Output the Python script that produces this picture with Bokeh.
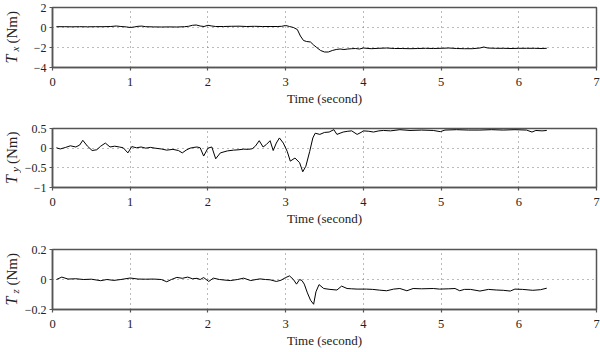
from math import pi
from bokeh.plotting import figure
from bokeh.layouts import column, row
from bokeh.models import Range1d, FixedTicker
from bokeh.core.properties import value
from bokeh.embed import file_html
from bokeh.resources import INLINE

FONT = "Liberation Serif"

x_ticks = [0, 1, 2, 3, 4, 5, 6, 7]
x_label = "Time (second)"

# ---- T_x ----
tx_time = [0.05, 0.15, 0.25, 0.35, 0.45, 0.55, 0.65, 0.75, 0.82, 0.88,
           0.95, 1.0, 1.05, 1.1, 1.15, 1.2, 1.3, 1.4, 1.5, 1.6,
           1.7, 1.75, 1.8, 1.85, 1.9, 1.95, 2.0, 2.05, 2.1, 2.2,
           2.3, 2.4, 2.5, 2.6, 2.7, 2.8, 2.9, 2.95, 3.0, 3.05,
           3.1, 3.15, 3.19, 3.23, 3.27, 3.32, 3.36, 3.4, 3.45, 3.5,
           3.55, 3.6, 3.65, 3.7, 3.75, 3.8, 3.85, 3.9, 3.95, 4.0,
           4.1, 4.2, 4.3, 4.4, 4.5, 4.6, 4.7, 4.8, 4.9, 5.0,
           5.1, 5.2, 5.3, 5.4, 5.5, 5.55, 5.6, 5.7, 5.8, 5.9,
           6.0, 6.1, 6.2, 6.3, 6.36]
tx_vals = [0.08, 0.08, 0.07, 0.08, 0.07, 0.08, 0.08, 0.1, 0.15, 0.1,
           0.06, 0.0, 0.05, 0.12, 0.14, 0.08, 0.06, 0.05, 0.06, 0.05,
           0.08, 0.12, 0.22, 0.25, 0.15, 0.1, 0.22, 0.15, 0.1, 0.1,
           0.12, 0.13, 0.1, 0.12, 0.1, 0.1, 0.1, 0.12, 0.2, 0.1,
           0.0, -0.2, -0.85, -1.3, -1.4, -1.45, -1.75, -2.0, -2.3, -2.45,
           -2.45, -2.3, -2.2, -2.15, -2.2, -2.15, -2.12, -2.1, -2.15, -2.05,
           -2.12, -2.08, -2.05, -2.1, -2.1, -2.12, -2.1, -2.08, -2.1, -2.08,
           -2.05, -2.1, -2.12, -2.12, -2.05, -1.95, -2.05, -2.08, -2.08, -2.1,
           -2.08, -2.08, -2.08, -2.1, -2.08]
tx_ticks = [-4, -2, 0, 2]
tx_tick_labels = ["\u22124", "\u22122", "0", "2"]

# ---- T_y ----
ty_time = [0.05, 0.1, 0.17, 0.23, 0.3, 0.35, 0.39, 0.45, 0.51, 0.57,
           0.62, 0.68, 0.74, 0.8, 0.86, 0.91, 0.97, 1.02, 1.08, 1.14,
           1.2, 1.26, 1.32, 1.4, 1.47, 1.55, 1.62, 1.67, 1.72, 1.77,
           1.82, 1.86, 1.9, 1.945, 2.0, 2.05, 2.1, 2.16, 2.25, 2.33,
           2.4, 2.46, 2.52, 2.57, 2.61, 2.66, 2.71, 2.75, 2.8, 2.84,
           2.88, 2.92, 2.97, 3.02, 3.06, 3.12, 3.18, 3.22, 3.26, 3.31,
           3.35, 3.38, 3.44, 3.5, 3.56, 3.62, 3.66, 3.7, 3.74, 3.8,
           3.85, 3.92, 3.97, 4.0, 4.07, 4.13, 4.2, 4.26, 4.35, 4.47,
           4.6, 4.75, 4.9, 4.99, 5.05, 5.2, 5.35, 5.5, 5.65, 5.8,
           5.95, 6.1, 6.17, 6.22, 6.3, 6.36]
ty_vals = [0.01, -0.02, 0.02, 0.06, 0.03, 0.08, 0.2, 0.05, -0.06, -0.04,
           0.05, 0.13, 0.03, 0.05, 0.03, 0.01, -0.12, 0.04, 0.01, 0.03,
           0.0, 0.02, 0.0, -0.02, -0.05, -0.03, -0.06, -0.12, -0.05, 0.0,
           0.02, 0.03, 0.01, -0.2, 0.0, 0.03, -0.27, -0.12, -0.07, -0.05,
           -0.04, -0.025, -0.03, -0.015, 0.05, 0.19, 0.03, 0.09, 0.19, -0.06,
           0.13, 0.26, 0.13, -0.08, -0.33, -0.25, -0.37, -0.6, -0.46, -0.08,
           0.26, 0.38, 0.35, 0.4, 0.41, 0.47, 0.35, 0.38, 0.41, 0.43,
           0.44, 0.35, 0.4, 0.44, 0.43, 0.41, 0.44, 0.45, 0.44, 0.47,
           0.45, 0.46, 0.45, 0.42, 0.46, 0.47, 0.46, 0.46, 0.47, 0.46,
           0.47, 0.46, 0.41, 0.45, 0.44, 0.45]
ty_ticks = [-1, -0.5, 0, 0.5]
ty_tick_labels = ["\u22121", "\u22120.5", "0", "0.5"]

# ---- T_z ----
tz_time = [0.05, 0.12, 0.2, 0.3, 0.4, 0.5, 0.62, 0.7, 0.79, 0.88,
           1.0, 1.1, 1.2, 1.3, 1.4, 1.47, 1.53, 1.6, 1.67, 1.74,
           1.8, 1.86, 1.9, 1.945, 2.01, 2.07, 2.15, 2.22, 2.29, 2.38,
           2.46, 2.55, 2.62, 2.67, 2.74, 2.8, 2.88, 2.94, 3.0, 3.05,
           3.1, 3.14, 3.18, 3.21, 3.24, 3.28, 3.32, 3.36, 3.39, 3.43,
           3.49, 3.57, 3.66, 3.72, 3.79, 3.85, 3.92, 4.04, 4.12, 4.21,
           4.3, 4.39, 4.47, 4.56, 4.64, 4.75, 4.9, 4.98, 5.1, 5.18,
           5.24, 5.3, 5.38, 5.5, 5.61, 5.71, 5.8, 5.89, 5.95, 6.05,
           6.18, 6.28, 6.36]
tz_vals = [0.0, 0.016, 0.003, 0.005, 0.0, 0.002, -0.008, 0.0, -0.006, 0.0,
           0.01, 0.003, 0.002, 0.003, 0.0, -0.015, 0.0, 0.014, 0.008, 0.016,
           0.005, 0.008, 0.0, 0.013, -0.013, 0.009, 0.0, -0.004, -0.007, 0.0,
           0.009, -0.007, 0.0, 0.004, 0.0, -0.002, -0.013, -0.005, 0.013, 0.024,
           0.0, -0.031, 0.0, -0.007, -0.031, -0.089, -0.138, -0.165, -0.082, -0.034,
           -0.06, -0.066, -0.07, -0.044, -0.06, -0.062, -0.064, -0.064, -0.066, -0.071,
           -0.075, -0.064, -0.06, -0.075, -0.06, -0.062, -0.06, -0.064, -0.062, -0.06,
           -0.075, -0.066, -0.066, -0.077, -0.066, -0.07, -0.072, -0.077, -0.064, -0.066,
           -0.072, -0.068, -0.058]
tz_ticks = [-0.2, 0, 0.2]
tz_tick_labels = ["\u22120.2", "0", "0.2"]

y_label_main = "T"
y_label_subs = ["x", "y", "z"]
y_label_unit = "(Nm)"

FRAME = "#555555"
GRID = "#777777"
TEXT = "#222222"

# layout constants
TOTAL_W, TOTAL_H = 600, 352
LAB_W = 21                     # width of the strip holding the y titles
FRAME_LEFT = 52                # pixel where x = 0 sits
BOTTOM_BORDER = 43
HEIGHTS = [110, 120, 122]
TOP_BORDERS = [7, 18, 19]


def make_fig(height, top_border, yticks, ylabels, t, v):
    ylo, yhi = yticks[0], yticks[-1]
    p = figure(width=TOTAL_W - LAB_W, height=height,
               x_range=Range1d(0, 7), y_range=Range1d(ylo, yhi),
               output_backend="svg", toolbar_location=None,
               min_border_left=FRAME_LEFT - LAB_W, min_border_right=4,
               min_border_top=top_border, min_border_bottom=BOTTOM_BORDER)
    p.background_fill_color = "white"
    p.border_fill_color = "white"
    p.outline_line_color = FRAME
    p.outline_line_width = 1.5

    p.line(t, v, line_color="black", line_width=1)

    p.xaxis.ticker = FixedTicker(ticks=x_ticks)
    p.yaxis.ticker = FixedTicker(ticks=yticks)
    p.yaxis.major_label_overrides = {k: s for k, s in zip(yticks, ylabels)}
    p.xaxis.axis_label = x_label

    for ax in (p.xaxis, p.yaxis):
        ax.axis_line_color = FRAME
        ax.axis_line_width = 1.5
        ax.major_tick_line_color = FRAME
        ax.major_tick_line_width = 1.2
        ax.major_tick_in = 0
        ax.major_tick_out = 3
        ax.minor_tick_line_color = None
        ax.major_label_text_font = FONT
        ax.major_label_text_font_size = "12px"
        ax.major_label_text_color = TEXT
    p.xaxis.major_label_text_font_size = "12.5px"
    p.xaxis.major_label_standoff = 7
    p.yaxis.major_label_standoff = 3
    p.xaxis.axis_label_text_font = FONT
    p.xaxis.axis_label_text_font_size = "13px"
    p.xaxis.axis_label_text_font_style = "normal"
    p.xaxis.axis_label_text_color = TEXT
    p.xaxis.axis_label_standoff = 2

    p.xgrid.ticker = FixedTicker(ticks=x_ticks[1:-1])
    p.ygrid.ticker = FixedTicker(ticks=yticks[1:-1])
    for g in (p.xgrid, p.ygrid):
        g.grid_line_color = GRID
        g.grid_line_dash = "1 4"
        g.grid_line_width = 1
    return p


p1 = make_fig(HEIGHTS[0], TOP_BORDERS[0], tx_ticks, tx_tick_labels, tx_time, tx_vals)
p2 = make_fig(HEIGHTS[1], TOP_BORDERS[1], ty_ticks, ty_tick_labels, ty_time, ty_vals)
p3 = make_fig(HEIGHTS[2], TOP_BORDERS[2], tz_ticks, tz_tick_labels, tz_time, tz_vals)

# strip with the rotated y titles (T_x (Nm) etc.), pixel coordinates
lab = figure(width=LAB_W, height=TOTAL_H, x_range=Range1d(0, LAB_W),
             y_range=Range1d(TOTAL_H, 0), output_backend="svg",
             toolbar_location=None, x_axis_type=None, y_axis_type=None,
             min_border=0, min_border_left=0, min_border_right=0,
             min_border_top=0, min_border_bottom=0)
lab.outline_line_color = None
lab.background_fill_color = "white"
lab.border_fill_color = "white"

centers = []
off = 0
for h, tb in zip(HEIGHTS, TOP_BORDERS):
    centers.append(off + tb + (h - tb - BOTTOM_BORDER) / 2)
    off += h

xc = 11
lab.text(x=[xc] * 3, y=[c + 26 for c in centers], text=[y_label_main] * 3,
         angle=pi / 2, text_align="left", text_baseline="middle",
         text_font=value(FONT), text_font_style="italic",
         text_font_size="16px", text_color=TEXT)
lab.text(x=[xc + 3.5] * 3, y=[c + 14 for c in centers], text=y_label_subs,
         angle=pi / 2, text_align="left", text_baseline="middle",
         text_font=value(FONT), text_font_style="italic",
         text_font_size="11px", text_color=TEXT)
lab.text(x=[xc] * 3, y=[c + 6 for c in centers], text=[y_label_unit] * 3,
         angle=pi / 2, text_align="left", text_baseline="middle",
         text_font=value(FONT), text_font_size="15px", text_color=TEXT)

layout = row(lab, column(p1, p2, p3, spacing=0), spacing=0)
open("out.html", "w").write(file_html(layout, INLINE))
